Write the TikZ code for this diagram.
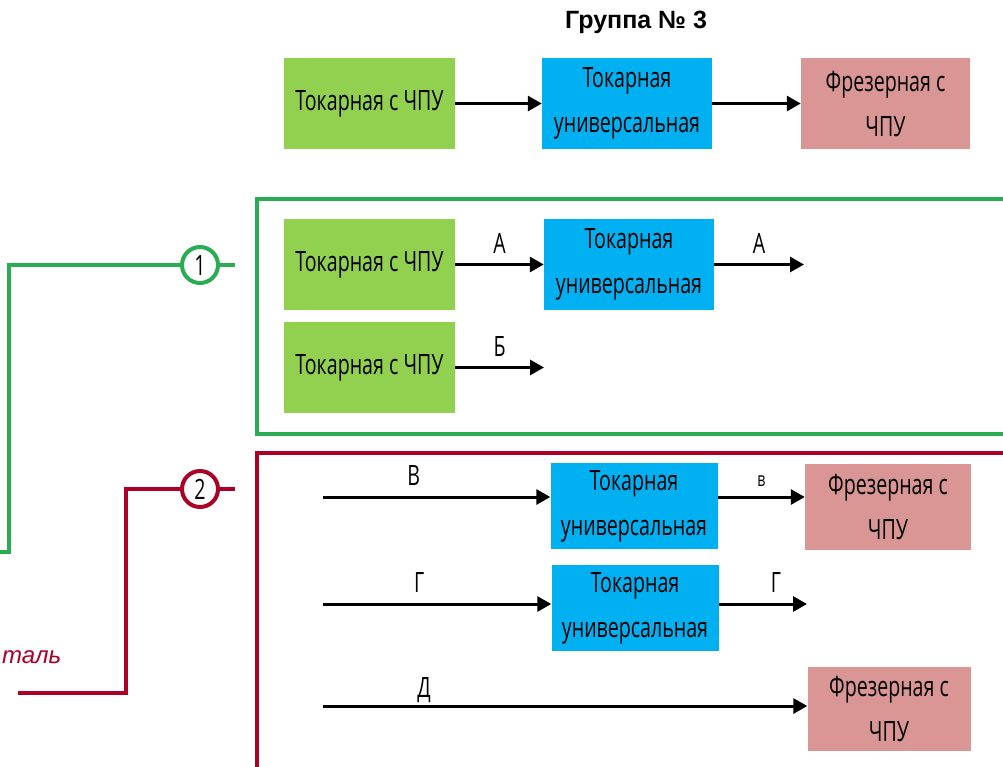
\documentclass[tikz,border=0pt]{standalone}
\usepackage{fontspec}
\usetikzlibrary{arrows.meta}
\setmainfont{Liberation Sans}
\newfontfamily\boxfont{Open Sans}[FakeStretch=0.7]
\definecolor{boxgreen}{HTML}{92D050}
\definecolor{boxblue}{HTML}{00B0F0}
\definecolor{boxpink}{HTML}{D99694}
\definecolor{framegreen}{HTML}{2AAD52}
\definecolor{framered}{HTML}{AD0027}
\begin{document}
\begin{tikzpicture}[x=1pt,y=-1pt,
  box/.style={rectangle,inner sep=0pt,align=center,
    font=\boxfont\fontsize{28}{45}\selectfont},
  lathe/.style={box,fill=boxgreen,minimum width=171pt,minimum height=91pt},
  univ/.style={box,fill=boxblue,minimum width=170pt,minimum height=88pt},
  mill/.style={box,fill=boxpink,minimum width=166pt,minimum height=86pt},
  flow/.style={line width=3pt,-{Triangle[length=14pt,width=15pt]}},
  lbl/.style={font=\boxfont\fontsize{28}{30}\selectfont,inner sep=0pt},
  smalllbl/.style={font=\boxfont\fontsize{20}{22}\selectfont,inner sep=0pt},
  badge/.style={circle,draw,line width=4pt,fill=white,minimum size=36pt,inner sep=0pt,
    font=\boxfont\fontsize{28}{30}\selectfont},
  frame/.style={line width=3.8pt}]
\useasboundingbox (0,0) rectangle (1003,766);

% heading
\node[font=\bfseries\fontsize{25}{28}\selectfont] (title) at (636,22) {Группа № 3};

% top chain
\node[lathe] (t1) at (369.5,103.5) {Токарная с ЧПУ};
\node[univ,minimum height=91pt] (t2) at (627,103.5) {Токарная\\универсальная};
\node[mill,minimum height=91pt,minimum width=169pt] (t3) at (885.5,103.5) {Фрезерная с\\ЧПУ};
\draw[flow] (t1.east) -- (t2.west);
\draw[flow] (t2.east) -- (t3.west);

% variant 1 (green)
\draw[frame,framegreen] (1010,199) -- (257,199) -- (257,434) -- (1010,434);
\node[lathe] (a1) at (369.5,264.5) {Токарная с ЧПУ};
\node[univ,minimum height=91pt] (a2) at (629,264.5) {Токарная\\универсальная};
\coordinate (a3) at (804,264.5);
\draw[flow] (a1.east) -- node[lbl,above=10pt] (la1) {А} (a2.west);
\draw[flow] (a2.east) -- node[lbl,above=10pt] (la2) {А} (a3);
\node[lathe] (b1) at (369.5,367.5) {Токарная с ЧПУ};
\coordinate (b2) at (544,367.5);
\draw[flow] (b1.east) -- node[lbl,above=10pt] (lb) {Б} (b2);

\node[badge,draw=framegreen] (n1) at (200,265) {1};
\draw[frame,framegreen] (-5,552) -- (9,552) -- (9,265) -- (n1.west);
\draw[frame,framegreen] (n1.east) -- (235,265);

% variant 2 (red)
\draw[frame,framered] (1010,453) -- (257,453) -- (257,775);
\node[badge,draw=framered] (n2) at (200,489) {2};
\draw[frame,framered] (18,693) -- (126,693) -- (126,489) -- (n2.west);
\draw[frame,framered] (n2.east) -- (235,489);
\node[anchor=west,text=framered,font=\itshape\fontsize{24}{28}\selectfont,inner sep=0pt] (part) at (2,657) {таль};

\coordinate (v0) at (323,497);
\node[univ,minimum width=167pt,minimum height=86pt] (v1) at (634,506) {Токарная\\универсальная};
\node[mill] (v2) at (888,506.5) {Фрезерная с\\ЧПУ};
\draw[flow] (v0) -- node[lbl,above=10pt,xshift=-23pt] (lv1) {В} (v0 -| v1.west);
\draw[flow] (v1.east |- 0,497) -- node[smalllbl,above=9pt] (lv2) {в} (v2.west |- 0,497);

\coordinate (g0) at (323,604);
\node[univ,minimum width=167pt,minimum height=86pt] (g1) at (635,608) {Токарная\\универсальная};
\coordinate (g2) at (807,604);
\draw[flow] (g0) -- node[lbl,above=10pt,xshift=-18pt] (lg1) {Г} (g0 -| g1.west);
\draw[flow] (g1.east |- 0,604) -- node[lbl,above=10pt,xshift=13pt] (lg2) {Г} (g2);

\coordinate (d0) at (323,706);
\node[mill,minimum width=163pt,minimum height=84pt] (d1) at (889,709) {Фрезерная с\\ЧПУ};
\draw[flow] (d0) -- (d0 -| d1.west);
\node[lbl] (ld) at (424,690) {Д};
\end{tikzpicture}
\end{document}
